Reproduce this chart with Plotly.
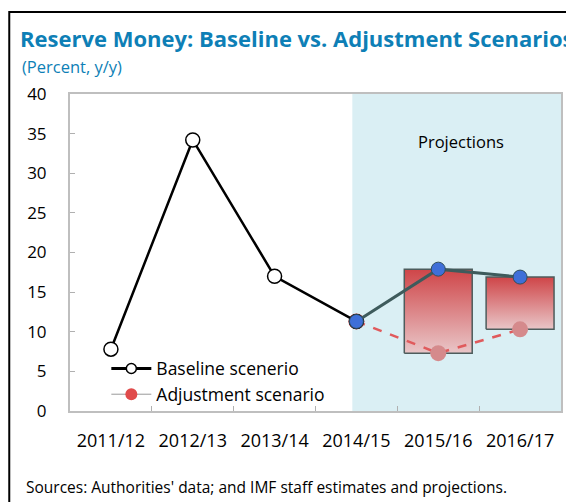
import plotly.graph_objects as go

# data
years = ["2011/12", "2012/13", "2013/14", "2014/15", "2015/16", "2016/17"]
baseline = [7.8, 34.2, 17.0, 11.3, 17.9, 16.9]
adjustment = [None, None, None, 11.3, 7.3, 10.3]
n_hist = 4          # 2011/12 .. 2014/15 are history
proj_start = 3      # projections start at 2014/15

title = "Reserve Money: Baseline vs. Adjustment Scenarios"
subtitle = "(Percent, y/y)"
source = "Sources: Authorities' data; and IMF staff estimates and projections."

FONT = "Open Sans"
BLUE_TITLE = "#0e7fb6"

fig = go.Figure()

# range boxes between baseline and adjustment (projection years),
# on the hidden numeric axis x so they sit under the lines on x2
half = 0.415
for i in range(proj_start + 1, len(years)):
    lo, hi = adjustment[i], baseline[i]
    fig.add_trace(go.Scatter(
        x=[i - half, i + half, i + half, i - half, i - half],
        y=[lo, lo, hi, hi, lo],
        xaxis="x", mode="lines", fill="toself",
        line=dict(color="#4d5c5c", width=1.5),
        fillgradient=dict(type="vertical",
                          colorscale=[[0, "#e9c6c8"], [1, "#cf4548"]]),
        showlegend=False, hoverinfo="skip"))

# adjustment scenario
fig.add_trace(go.Scatter(
    x=years[proj_start:], y=adjustment[proj_start:], xaxis="x2",
    mode="lines+markers",
    line=dict(color="#e05a5c", width=2.5, dash="dash"),
    marker=dict(size=16, color=["#d9565a", "#d58a8c", "#d58a8c"]),
    showlegend=False))

# baseline history
fig.add_trace(go.Scatter(
    x=years[:n_hist], y=baseline[:n_hist], xaxis="x2", mode="lines+markers",
    line=dict(color="black", width=2.5),
    marker=dict(size=14, color="white", line=dict(color="black", width=1.5)),
    showlegend=False))

# baseline projection
fig.add_trace(go.Scatter(
    x=years[proj_start:], y=baseline[proj_start:], xaxis="x2",
    mode="lines+markers",
    line=dict(color="#3e5b5c", width=3),
    marker=dict(size=14, color="#3f6fd8", line=dict(color="#2f4f5f", width=1)),
    showlegend=False))

# legend entries styled like the reference key
fig.add_trace(go.Scatter(
    x=[None], y=[None], xaxis="x2", mode="lines+markers",
    line=dict(color="black", width=3),
    marker=dict(size=10, color="white", line=dict(color="black", width=1.5)),
    name="Baseline scenerio"))
fig.add_trace(go.Scatter(
    x=[None], y=[None], xaxis="x2", mode="lines+markers",
    line=dict(color="#9a9a9a", width=1),
    marker=dict(size=12, color="#e04b4b"),
    name="Adjustment scenario"))

# projection shading
fig.add_shape(type="rect", xref="x", yref="paper", x0=2.95, x1=5.5, y0=0, y1=1,
              fillcolor="#daeff4", line_width=0, layer="below")
fig.add_annotation(text="Projections", x=4.28, y=34, xref="x", yref="y",
                   showarrow=False, font=dict(size=16.5, color="black", family=FONT))

# outer black frame
fig.add_shape(type="rect", xref="paper", yref="paper",
              x0=-0.1237, x1=1.2, y0=-0.5, y1=1.2587,
              line=dict(color="black", width=2), fillcolor="rgba(0,0,0,0)")

fig.add_annotation(text="<b>" + title + "</b>", xref="paper", yref="paper",
                   x=-0.1055, y=1.177, xanchor="left", yanchor="middle",
                   showarrow=False, font=dict(size=22, color=BLUE_TITLE, family=FONT))
fig.add_annotation(text=subtitle, xref="paper", yref="paper",
                   x=-0.1014, y=1.088, xanchor="left", yanchor="middle",
                   showarrow=False, font=dict(size=16.5, color=BLUE_TITLE, family=FONT))
fig.add_annotation(text=source, xref="paper", yref="paper",
                   x=-0.0933, y=-0.24, xanchor="left", yanchor="middle",
                   showarrow=False, font=dict(size=15.5, color="black", family=FONT))

fig.update_layout(
    width=566, height=494,
    margin=dict(l=62, r=11, t=86, b=91),
    paper_bgcolor="white", plot_bgcolor="white",
    font=dict(family=FONT, size=17, color="black"),
    xaxis=dict(range=[-0.5, 5.5], visible=False),
    xaxis2=dict(overlaying="x", anchor="y", side="bottom",
                type="category", categoryorder="array", categoryarray=years,
                range=[-0.5, 5.5], tickson="boundaries",
                ticks="inside", ticklen=5, tickcolor="#b0b0b0",
                showline=True, linecolor="#bfbfbf", linewidth=2, mirror=True,
                showgrid=False, zeroline=False, ticklabelstandoff=12,
                tickfont=dict(size=18)),
    yaxis=dict(range=[0, 40], dtick=5, ticks="inside", ticklen=5,
               tickcolor="#b0b0b0", showline=True, linecolor="#bfbfbf",
               linewidth=2, mirror=True, showgrid=False, zeroline=False,
               ticklabelstandoff=18),
    legend=dict(x=0.074, y=-0.005, xanchor="left", yanchor="bottom",
                bgcolor="rgba(0,0,0,0)", font=dict(size=17.5),
                tracegroupgap=2, itemwidth=40),
)

fig.write_html("out.html")
